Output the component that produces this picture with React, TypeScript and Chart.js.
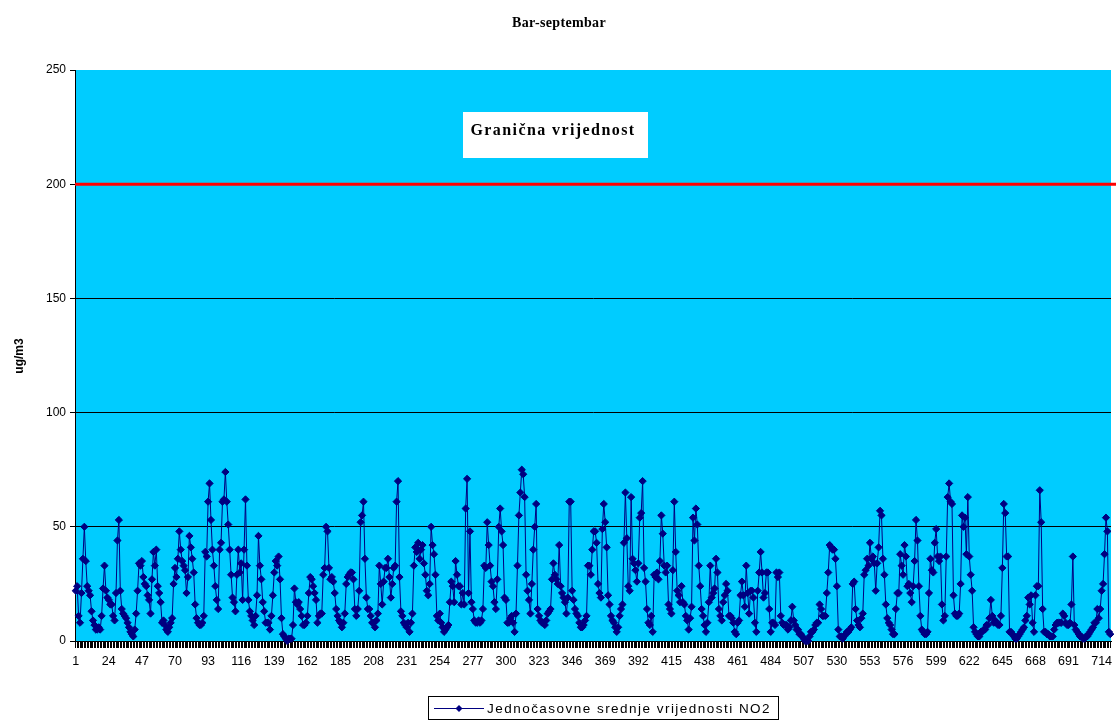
import { useEffect, useRef } from 'react';
import { Chart, registerables } from 'chart.js';

Chart.register(...registerables);

const chartTitle = 'Bar-septembar';
const yAxisTitle = 'ug/m3';
const seriesName = 'Jednočasovne srednje vrijednosti NO2';
const limitLabel = 'Granična vrijednost';
const limitValue = 200;
const yMin = 0;
const yMax = 250;
const yStep = 50;
const labelStep = 23;

const day01 = [22, 24, 11, 8, 21, 36, 50, 35, 24, 22, 20, 13, 9, 7, 5, 5, 6, 5, 11, 23, 33, 22, 19, 18];
const day02 = [16, 16, 11, 9, 21, 44, 53, 22, 14, 12, 11, 10, 8, 6, 4, 3, 2, 5, 12, 22, 34, 33, 35, 28];
const day03 = [25, 24, 20, 18, 12, 27, 39, 33, 40, 24, 21, 17, 8, 9, 7, 5, 4, 6, 8, 10, 25, 32, 28, 36];
const day04 = [48, 40, 35, 33, 31, 21, 28, 46, 41, 36, 30, 16, 10, 8, 7, 7, 8, 11, 39, 37, 61, 69, 53, 40];
const day05 = [33, 24, 18, 14, 40, 43, 61, 62, 74, 61, 51, 40, 29, 19, 17, 13, 29, 40, 30, 34, 18, 40, 62, 33];
const day06 = [18, 13, 11, 9, 7, 11, 20, 46, 33, 27, 17, 13, 8, 8, 8, 5, 11, 20, 30, 35, 33, 37, 27, 10];
const day07 = [3, 2, 1, 0, 1, 1, 1, 7, 23, 17, 16, 17, 14, 11, 7, 7, 8, 11, 21, 28, 27, 24, 21, 18];
const day08 = [8, 11, 12, 12, 29, 32, 50, 48, 32, 27, 28, 26, 21, 14, 11, 9, 8, 6, 8, 12, 25, 28, 29, 30];
const day09 = [30, 27, 14, 11, 14, 22, 52, 55, 61, 36, 19, 14, 14, 11, 8, 8, 6, 9, 12, 33, 25, 16, 26, 32];
const day10 = [32, 36, 28, 19, 25, 32, 33, 61, 70, 28, 13, 11, 8, 7, 6, 8, 4, 8, 12, 33, 41, 39, 43, 36];
const day11 = [40, 42, 34, 29, 22, 20, 25, 50, 42, 38, 29, 11, 9, 12, 8, 6, 4, 5, 6, 7, 17, 26, 24, 17];
const day12 = [35, 29, 24, 24, 16, 21, 16, 58, 71, 21, 48, 17, 14, 9, 8, 8, 9, 8, 9, 14, 33, 32, 52, 42];
const day13 = [33, 26, 24, 17, 14, 27, 50, 58, 48, 42, 19, 18, 8, 8, 10, 11, 8, 4, 12, 33, 55, 65, 75, 73];
const day14 = [63, 29, 22, 18, 12, 25, 40, 50, 60, 14, 11, 9, 8, 8, 7, 9, 12, 13, 14, 27, 34, 29, 27, 25];
const day15 = [42, 24, 21, 19, 17, 12, 19, 61, 61, 22, 18, 14, 12, 11, 8, 6, 6, 7, 9, 11, 33, 33, 29, 40];
const day16 = [48, 48, 43, 25, 21, 19, 49, 60, 52, 41, 20, 16, 11, 9, 8, 6, 4, 6, 11, 14, 16, 43, 65, 45];
const day17 = [24, 22, 63, 36, 34, 31, 26, 34, 54, 56, 70, 32, 26, 14, 8, 7, 11, 4, 29, 28, 30, 27, 35, 55];
const day18 = [47, 33, 30, 33, 16, 14, 12, 31, 61, 39, 22, 20, 17, 24, 17, 16, 11, 9, 5, 10, 15, 54, 44, 58];
const day19 = [51, 33, 24, 14, 11, 7, 4, 8, 17, 33, 19, 21, 23, 36, 30, 14, 11, 9, 17, 20, 25, 22, 11, 11];
const day20 = [10, 8, 4, 3, 8, 9, 20, 26, 20, 15, 33, 21, 12, 22, 22, 19, 8, 4, 22, 30, 39, 30, 19, 21];
const day21 = [30, 30, 14, 4, 8, 8, 7, 30, 28, 30, 11, 8, 7, 7, 7, 5, 6, 9, 15, 9, 7, 5, 5, 3];
const day22 = [3, 2, 1, 0, 0, 0, 2, 4, 4, 5, 7, 8, 8, 16, 14, 11, 11, 11, 21, 30, 42, 41, 40, 40];
const day23 = [36, 24, 5, 2, 2, 1, 2, 3, 4, 4, 5, 6, 25, 26, 14, 9, 7, 6, 10, 12, 29, 31, 36, 33];
const day24 = [43, 36, 37, 34, 22, 34, 41, 57, 55, 36, 29, 16, 10, 8, 7, 5, 3, 3, 14, 21, 21, 38, 33, 29];
const day25 = [42, 37, 24, 25, 21, 17, 24, 35, 53, 44, 24, 11, 5, 4, 3, 3, 4, 21, 36, 31, 30, 43, 49, 37];
const day26 = [35, 37, 16, 9, 11, 37, 63, 69, 61, 60, 20, 12, 11, 11, 12, 25, 55, 50, 54, 38, 63, 37, 29, 22];
const day27 = [6, 4, 3, 2, 2, 4, 4, 5, 5, 7, 7, 10, 18, 11, 8, 9, 8, 7, 7, 11, 32, 60, 56, 37];
const day28 = [37, 4, 4, 3, 2, 1, 1, 2, 3, 4, 5, 6, 9, 11, 19, 16, 20, 8, 4, 20, 24, 24, 66, 52];
const day29 = [14, 4, 4, 3, 3, 2, 2, 2, 5, 7, 8, 8, 8, 8, 12, 11, 8, 7, 7, 8, 16, 37, 7, 5];
const day30 = [4, 3, 2, 2, 1, 1, 2, 2, 3, 4, 5, 6, 8, 8, 14, 10, 14, 22, 25, 38, 54, 48, 4, 3];

const no2Values = [
  ...day01, ...day02, ...day03, ...day04, ...day05, ...day06, ...day07, ...day08, ...day09, ...day10,
  ...day11, ...day12, ...day13, ...day14, ...day15, ...day16, ...day17, ...day18, ...day19, ...day20,
  ...day21, ...day22, ...day23, ...day24, ...day25, ...day26, ...day27, ...day28, ...day29, ...day30,
];
const hourLabels = no2Values.map((_, i) => String(i + 1));

const W = 1116;
const H = 723;
const SERIF = '"Liberation Serif", "Times New Roman", serif';
const SANS = '"Liberation Sans", Arial, sans-serif';
const NAVY = '#000080';

function drawDiamond(ctx: CanvasRenderingContext2D, x: number, y: number, r: number) {
  ctx.beginPath();
  ctx.moveTo(x, y - r);
  ctx.lineTo(x + r, y);
  ctx.lineTo(x, y + r);
  ctx.lineTo(x - r, y);
  ctx.closePath();
  ctx.fill();
}

// draws text spread to a target width (the original's GDI rendering is wider than ours)
function fitText(
  ctx: CanvasRenderingContext2D,
  text: string,
  x: number,
  y: number,
  targetWidth: number,
  align: 'left' | 'center',
) {
  (ctx as any).letterSpacing = '0px';
  const natural = ctx.measureText(text).width;
  const spacing = Math.max(0, (targetWidth - natural) / text.length);
  (ctx as any).letterSpacing = `${spacing.toFixed(2)}px`;
  ctx.textAlign = 'left';
  const startX = align === 'center' ? x - targetWidth / 2 : x;
  ctx.fillText(text, startX, y);
  (ctx as any).letterSpacing = '0px';
}

const decorPlugin = {
  id: 'decor',
  beforeDraw(chart: any) {
    const { ctx, chartArea: a } = chart;
    ctx.save();
    ctx.fillStyle = '#ffffff';
    ctx.fillRect(0, 0, chart.width, chart.height);
    ctx.fillStyle = '#00CCFF';
    ctx.fillRect(a.left, a.top, a.right - a.left, a.bottom - a.top);
    ctx.restore();
  },
  afterDraw(chart: any) {
    const { ctx, chartArea: a, scales } = chart;
    const yLim = scales.y.getPixelForValue(limitValue);
    ctx.save();
    // limit line
    ctx.strokeStyle = '#FF0000';
    ctx.lineWidth = 3;
    ctx.beginPath();
    ctx.moveTo(a.left, yLim);
    ctx.lineTo(chart.width, yLim);
    ctx.stroke();

    // limit annotation
    ctx.fillStyle = '#ffffff';
    ctx.fillRect(463, 112, 185, 46);
    ctx.fillStyle = '#000000';
    ctx.textBaseline = 'middle';
    ctx.font = `bold 16px ${SERIF}`;
    fitText(ctx, limitLabel, 553, 131, 165, 'center');

    // title
    ctx.font = `bold 14px ${SERIF}`;
    fitText(ctx, chartTitle, 559, 23, 94, 'center');

    // y axis title
    ctx.save();
    ctx.translate(20, 356);
    ctx.rotate(-Math.PI / 2);
    ctx.font = `bold 12px ${SANS}`;
    ctx.textAlign = 'center';
    ctx.fillText(yAxisTitle, 0, 0);
    ctx.restore();

    // legend
    ctx.strokeStyle = '#000000';
    ctx.lineWidth = 1;
    ctx.strokeRect(428.5, 696.5, 350, 23);
    ctx.strokeStyle = NAVY;
    ctx.beginPath();
    ctx.moveTo(434, 708.5);
    ctx.lineTo(484, 708.5);
    ctx.stroke();
    ctx.fillStyle = NAVY;
    drawDiamond(ctx, 459, 708.5, 3.5);
    ctx.fillStyle = '#000000';
    ctx.font = `13.5px ${SANS}`;
    fitText(ctx, seriesName, 487, 709, 284, 'left');
    ctx.restore();
  },
};

export default function App() {
  const ref = useRef<HTMLCanvasElement | null>(null);
  useEffect(() => {
    if (!ref.current) return;
    const chart = new Chart(ref.current, {
      type: 'line',
      data: {
        labels: hourLabels,
        datasets: [
          {
            label: seriesName,
            data: no2Values,
            borderColor: NAVY,
            backgroundColor: NAVY,
            borderWidth: 1,
            pointStyle: 'rectRot',
            pointRadius: 3.6,
            pointBackgroundColor: NAVY,
            pointBorderColor: NAVY,
            pointBorderWidth: 1,
            tension: 0,
            clip: false,
          },
        ],
      },
      options: {
        animation: false,
        responsive: false,
        devicePixelRatio: 1,
        layout: { padding: { top: 70, right: 3, left: 0, bottom: 0 } },
        plugins: {
          legend: { display: false },
          title: { display: false },
          tooltip: { enabled: false },
        },
        scales: {
          x: {
            type: 'category',
            offset: true,
            afterFit: (s: any) => {
              s.height = H - 641;
              s.paddingLeft = 0;
              s.paddingRight = 0;
            },
            grid: {
              drawOnChartArea: false,
              drawTicks: true,
              tickLength: 7,
              tickColor: '#000000',
              offset: false,
            },
            border: { color: '#000000', width: 1 },
            ticks: {
              autoSkip: false,
              maxRotation: 0,
              minRotation: 0,
              padding: 6,
              color: '#000000',
              font: { family: SANS, size: 12.5 },
              callback: (_v: any, i: number) => (i % labelStep === 0 ? hourLabels[i] : ''),
            },
          },
          y: {
            min: yMin,
            max: yMax,
            afterFit: (s: any) => {
              s.width = 75;
              s.paddingTop = 0;
              s.paddingBottom = 0;
            },
            grid: {
              color: (c: any) => (c.tick && c.tick.value === yMax ? 'rgba(0,0,0,0)' : '#000000'),
              tickColor: '#000000',
              tickLength: 5,
              lineWidth: 1,
            },
            border: { color: '#000000', width: 1 },
            ticks: {
              stepSize: yStep,
              padding: 4,
              color: '#000000',
              font: { family: SANS, size: 12 },
            },
          },
        },
      },
      plugins: [decorPlugin],
    } as any);
    return () => chart.destroy();
  }, []);
  return (
    <canvas
      ref={ref}
      width={W}
      height={H}
      style={{ position: 'absolute', left: 0, top: 0, width: W, height: H }}
    />
  );
}
